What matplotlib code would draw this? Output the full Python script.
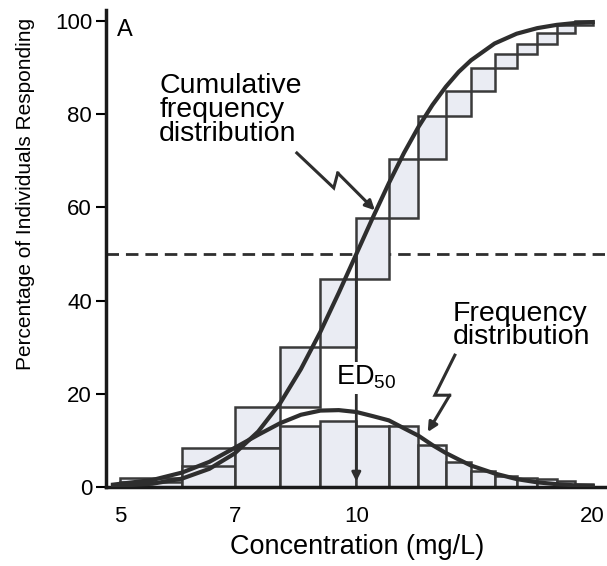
import numpy as np
import matplotlib.pyplot as plt

# histogram bins (concentration, mg/L), one unit wide
bin_left = [5, 6, 7, 8, 9, 10, 11, 12, 13, 14, 15, 16, 17, 18, 19]
freq = [1.1, 4.5, 8.4, 13.1, 14.2, 13.1, 13.0, 9.0, 5.3, 3.4, 2.3, 2.0, 1.7, 1.2, 0.7]
cum = [1.9, 8.4, 17.2, 30.0, 44.6, 57.7, 70.3, 79.6, 85.0, 90.0, 93.0, 95.2, 97.4, 99.1, 100.0]

# smooth curves
curve_x = [4.9, 5.5, 6, 6.5, 7, 7.5, 8, 8.5, 9, 9.5, 10, 10.5, 11, 11.5, 12,
           12.5, 13, 13.5, 14, 15, 16, 17, 18, 19, 20]
cum_curve = [0.2, 0.7, 1.8, 3.9, 7.2, 11.9, 18.0, 25.3, 33.3, 41.7, 50.0, 57.9, 65.2,
             71.7, 77.3, 82.0, 85.9, 89.1, 91.6, 95.2, 97.3, 98.5, 99.2, 99.6, 99.8]
freq_curve = [0.5, 1.5, 3.1, 5.4, 8.4, 11.2, 13.7, 15.5, 16.4, 16.5, 16.1, 15.2, 14.3,
              12.6, 11.0, 9.0, 7.3, 5.9, 4.6, 2.9, 1.7, 1.0, 0.6, 0.35, 0.2]

xticks = [5, 7, 10, 20]
yticks = [0, 20, 40, 60, 80, 100]

dark = '#2e2e2e'
fill = '#eaecf3'
plt.rcParams['font.family'] = ['Liberation Sans', 'DejaVu Sans']

fig = plt.figure(figsize=(6.07, 5.66), dpi=100)
ax = fig.add_axes([0.1746, 0.1396, 0.822, 0.8428])
ax.set_xscale('log')
ax.set_xlim(4.8, 20.73)
ax.set_ylim(0, 102.4)

# dashed 50% line, behind the bars
ax.axhline(50, color=dark, lw=2, ls=(0, (4.5, 2.5)), zorder=1)

# cumulative boxes stacked from previous level
cum_prev = [0] + cum[:-1]
cum_h = [c - p for c, p in zip(cum, cum_prev)]
ax.bar(bin_left, cum_h, width=1, bottom=cum_prev, align='edge',
       color=fill, edgecolor='#3a3a3a', lw=1.8, zorder=2)
ax.bar(bin_left, freq, width=1, align='edge',
       color=fill, edgecolor='#3a3a3a', lw=1.8, zorder=2)

ax.plot(curve_x, cum_curve, color=dark, lw=3, zorder=4, solid_joinstyle='round')
ax.plot(curve_x, freq_curve, color=dark, lw=3, zorder=4, solid_joinstyle='round')

# ED50 arrow
ax.annotate('', xy=(10, 0.6), xytext=(10, 50),
            arrowprops=dict(arrowstyle='-|>', color=dark, lw=2, mutation_scale=13),
            zorder=5)
ax.text(9.42, 21.9, r'$\mathregular{ED_{50}}$', fontsize=19.5, ha='left', va='baseline',
        zorder=6, bbox=dict(facecolor='white', edgecolor='none', pad=1.5))

# text labels with zigzag pointers
ax.text(4.96, 98, 'A', fontsize=17, ha='left', va='center')
ax.text(5.61, 88.8, 'Cumulative\nfrequency\ndistribution', fontsize=20.5,
        ha='left', va='top', linespacing=0.88)
ax.text(13.27, 40.0, 'Frequency\ndistribution', fontsize=20.5,
        ha='left', va='top', linespacing=0.88)

zz1_x = [8.40, 9.36, 9.47]
zz1_y = [71.7, 64.2, 67.4]
ax.plot(zz1_x, zz1_y, color=dark, lw=2.2, zorder=5, solid_joinstyle='miter')
ax.annotate('', xy=(10.56, 59.4), xytext=(zz1_x[-1], zz1_y[-1]),
            arrowprops=dict(arrowstyle='-|>', color=dark, lw=2.2, mutation_scale=14,
                            shrinkA=0, shrinkB=0), zorder=5)
zz2_x = [13.35, 12.59, 13.15]
zz2_y = [28.3, 19.7, 19.7]
ax.plot(zz2_x, zz2_y, color=dark, lw=2.2, zorder=5, solid_joinstyle='miter')
ax.annotate('', xy=(12.33, 11.8), xytext=(zz2_x[-1], zz2_y[-1]),
            arrowprops=dict(arrowstyle='-|>', color=dark, lw=2.2, mutation_scale=14,
                            shrinkA=0, shrinkB=0), zorder=5)

# axes styling
for s in ['top', 'right']:
    ax.spines[s].set_visible(False)
for s in ['left', 'bottom']:
    ax.spines[s].set_linewidth(2.5)
    ax.spines[s].set_color('#1a1a1a')

ax.set_xticks(xticks)
ax.set_xticklabels([str(t) for t in xticks])
ax.xaxis.set_minor_locator(plt.NullLocator())
ax.tick_params(axis='x', length=0, pad=14, labelsize=16)
ax.set_yticks(yticks)
ax.tick_params(axis='y', length=7, width=1.5, labelsize=16, pad=3)

ax.set_xlabel('Concentration (mg/L)', fontsize=19.5)
ax.xaxis.set_label_coords(0.503, -0.098)
ax.set_ylabel('Percentage of Individuals Responding', fontsize=15)
ax.yaxis.set_label_coords(-0.142, 0.614)

fig.savefig('out.png', dpi=100, facecolor='white')
